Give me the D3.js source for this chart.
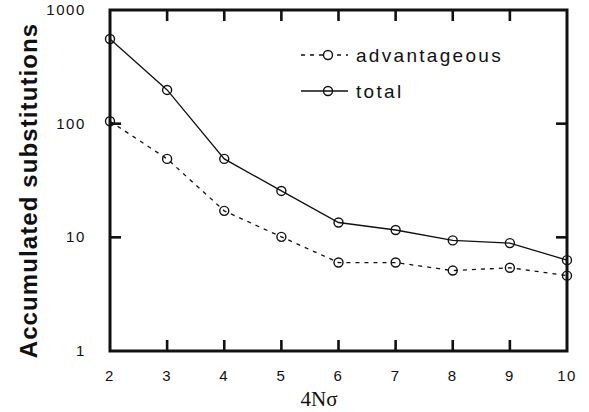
<!DOCTYPE html>
<html lang="en">
<head>
    <meta charset="UTF-8">
    <title>Accumulated substitutions</title>
    <style>
        body{ margin: 0; background: #fff; }
        svg text{ fill: #111; }
    </style>
</head>
<body>
    <div id="chart"></div>
    <script src="https://cdn.jsdelivr.net/npm/d3@7/dist/d3.min.js"></script>
    <script>
        // values
        var xValues = [2, 3, 4, 5, 6, 7, 8, 9, 10];
        var total = [556, 198, 49, 25.6, 13.5, 11.6, 9.4, 8.9, 6.3];
        var advantageous = [105, 49, 17.1, 10.1, 6.0, 6.0, 5.1, 5.4, 4.6];
        var yTicks = [1, 10, 100, 1000];
        var seriesNames = ["advantageous", "total"];

        var width = 589, height = 412;
        var margin = {top: 10, right: 22, bottom: 61, left: 110};

        var svg = d3.select("#chart").append("svg")
            .attr("width", width)
            .attr("height", height);

        var x = d3.scaleLinear().domain([2, 10]).range([margin.left, width - margin.right]);
        var y = d3.scaleLog().domain([1, 1000]).range([height - margin.bottom, margin.top]);

        var x0 = x.range()[0], x1 = x.range()[1];
        var y0 = y.range()[0], y1 = y.range()[1];

        var g = svg.append("g");

        // ticks, all pointing inward
        var tickLen = 11;
        var innerX = xValues.filter(function(d){ return d > 2 && d < 10; });
        var innerY = yTicks.filter(function(d){ return d > 1 && d < 1000; });

        g.selectAll(".xtb").data(innerX).enter().append("line")
            .attr("x1", function(d){ return x(d); }).attr("x2", function(d){ return x(d); })
            .attr("y1", y0).attr("y2", y0 - tickLen)
            .attr("stroke", "#111").attr("stroke-width", 2.6);
        g.selectAll(".xtt").data(innerX).enter().append("line")
            .attr("x1", function(d){ return x(d); }).attr("x2", function(d){ return x(d); })
            .attr("y1", y1).attr("y2", y1 + tickLen)
            .attr("stroke", "#111").attr("stroke-width", 2.6);
        g.selectAll(".ytl").data(innerY).enter().append("line")
            .attr("x1", x0).attr("x2", x0 + tickLen)
            .attr("y1", function(d){ return y(d); }).attr("y2", function(d){ return y(d); })
            .attr("stroke", "#111").attr("stroke-width", 2.6);
        g.selectAll(".ytr").data(innerY).enter().append("line")
            .attr("x1", x1).attr("x2", x1 - tickLen)
            .attr("y1", function(d){ return y(d); }).attr("y2", function(d){ return y(d); })
            .attr("stroke", "#111").attr("stroke-width", 2.6);

        // frame
        g.append("rect")
            .attr("x", x0).attr("y", y1)
            .attr("width", x1 - x0).attr("height", y0 - y1)
            .attr("fill", "none")
            .attr("stroke", "#111")
            .attr("stroke-width", 3);

        // tick labels
        g.selectAll(".xl").data(xValues).enter().append("text")
            .attr("x", function(d){ return x(d); })
            .attr("y", y0 + 30)
            .attr("text-anchor", "middle")
            .style("font-family", "Liberation Sans, Arial, sans-serif")
            .style("font-size", "15px")
            .style("letter-spacing", "1.5px")
            .text(function(d){ return d; });

        g.selectAll(".yl").data(yTicks).enter().append("text")
            .attr("x", x0 - 24)
            .attr("y", function(d){ return y(d) + 5; })
            .attr("text-anchor", "end")
            .style("font-family", "Liberation Sans, Arial, sans-serif")
            .style("font-size", "15px")
            .style("letter-spacing", "1.6px")
            .text(function(d){ return d; });

        // axis titles
        svg.append("text")
            .attr("transform", "translate(37," + ((y0 + y1) / 2 + 10) + ") rotate(-90)")
            .attr("text-anchor", "middle")
            .style("font-family", "Liberation Sans, Arial, sans-serif")
            .style("font-size", "24px")
            .style("font-weight", "bold")
            .style("letter-spacing", "1.1px")
            .text("Accumulated  substitutions");

        svg.append("text")
            .attr("x", 319)
            .attr("y", 406)
            .attr("text-anchor", "middle")
            .style("font-family", "Liberation Serif, Times New Roman, serif")
            .style("font-size", "21px")
            .text("4Nσ");

        // series
        var line = d3.line()
            .x(function(d, i){ return x(xValues[i]); })
            .y(function(d){ return y(d); });

        var series = [
            {name: seriesNames[0], values: advantageous, dash: "4,5"},
            {name: seriesNames[1], values: total, dash: null}
        ];

        series.forEach(function(s){
            g.append("path")
                .datum(s.values)
                .attr("d", line)
                .attr("fill", "none")
                .attr("stroke", "#111")
                .attr("stroke-width", 1.3)
                .attr("stroke-dasharray", s.dash);
            g.selectAll(".pt-" + s.name).data(s.values).enter().append("circle")
                .attr("cx", function(d, i){ return x(xValues[i]); })
                .attr("cy", function(d){ return y(d); })
                .attr("r", 4.5)
                .attr("fill", "none")
                .attr("stroke", "#111")
                .attr("stroke-width", 1.4);
        });

        // legend
        var legend = svg.append("g");
        series.forEach(function(s, i){
            var ly = 55 + i * 36;
            legend.append("line")
                .attr("x1", 301).attr("x2", 348)
                .attr("y1", ly).attr("y2", ly)
                .attr("stroke", "#111")
                .attr("stroke-width", 1.3)
                .attr("stroke-dasharray", s.dash);
            legend.append("circle")
                .attr("cx", 328).attr("cy", ly)
                .attr("r", 4.5)
                .attr("fill", s.dash ? "#fff" : "none")
                .attr("stroke", "#111")
                .attr("stroke-width", 1.4);
            legend.append("text")
                .attr("x", 356)
                .attr("y", ly + 7)
                .style("font-family", "Liberation Sans, Arial, sans-serif")
                .style("font-size", "19px")
                .style("letter-spacing", "2.3px")
                .text(s.name);
        });
    </script>
</body>
</html>
